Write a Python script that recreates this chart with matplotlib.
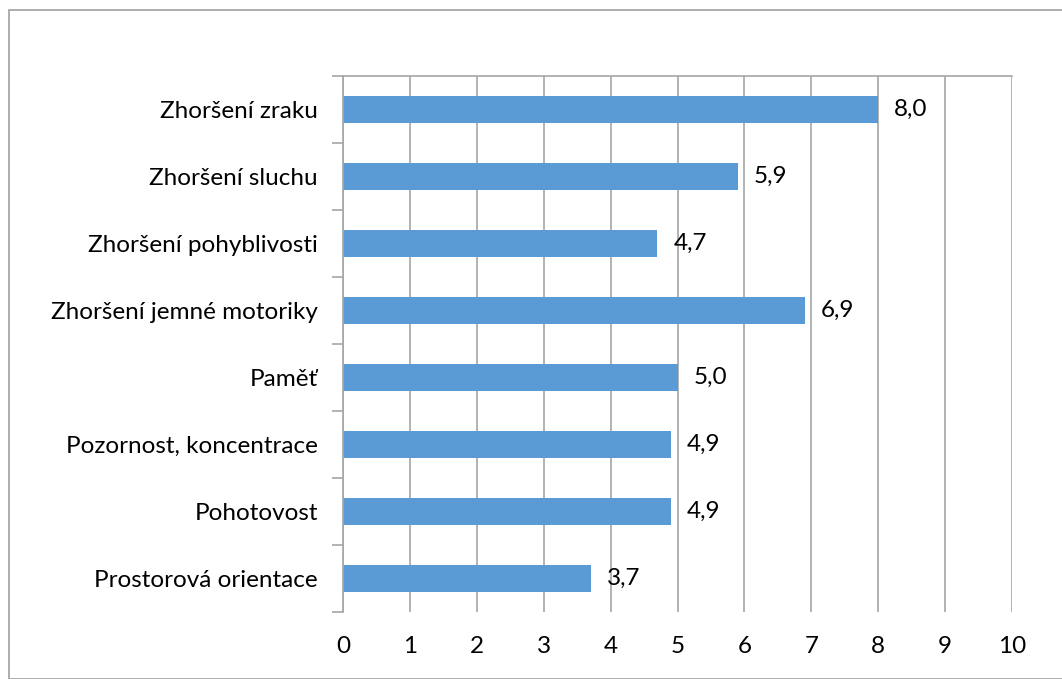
import matplotlib as mpl
import matplotlib.pyplot as plt
from matplotlib.patches import Rectangle

categories = [
    "Zhoršení zraku",
    "Zhoršení sluchu",
    "Zhoršení pohyblivosti",
    "Zhoršení jemné motoriky",
    "Paměť",
    "Pozornost, koncentrace",
    "Pohotovost",
    "Prostorová orientace",
]
values = [8.0, 5.9, 4.7, 6.9, 5.0, 4.9, 4.9, 3.7]
x_ticks = list(range(0, 11))

FS = 17.5
mpl.rcParams.update({"font.family": ["Lato", "DejaVu Sans"], "font.size": FS})

W, H = 1062, 679
fig = plt.figure(figsize=(W / 100, H / 100), dpi=100)
fig.patches.append(Rectangle((9 / W, 0), 1.2, 1 - 10 / H, transform=fig.transFigure,
                             fill=False, edgecolor="#a0a0a0", linewidth=1.2))

ax = fig.add_axes([343 / W, 1 - 612 / H, (1012 - 343) / W, (612 - 76) / H])
grid_c = "#a6a6a6"
n = len(categories)
ypos = list(range(n))
ax.barh(ypos, values, height=0.4, color="#5b9bd5", zorder=2)
ax.set_ylim(n - 0.5, -0.5)
ax.set_xlim(0, 10)
ax.set_xticks(x_ticks)
ax.set_xticklabels([str(t) for t in x_ticks])
ax.tick_params(axis="x", length=0, pad=17, labelsize=FS)
ax.set_yticks(ypos)
ax.set_yticklabels(categories, fontsize=FS)
ax.tick_params(axis="y", which="major", length=0, pad=18)
ax.set_yticks([i - 0.5 for i in range(n + 1)], minor=True)
ax.tick_params(axis="y", which="minor", length=8, color=grid_c, width=1.2, direction="out")
ax.grid(axis="x", color=grid_c, linewidth=1.2, zorder=0)
ax.set_axisbelow(True)
for s in ["right", "bottom"]:
    ax.spines[s].set_visible(False)
for s in ["top", "left"]:
    ax.spines[s].set_color(grid_c)
    ax.spines[s].set_linewidth(1.2)

for y, v in zip(ypos, values):
    ax.annotate(f"{v:.1f}".replace(".", ","), (v, y), xytext=(11.5, 0),
                textcoords="offset points", va="center", ha="left", fontsize=FS, zorder=3)

fig.savefig("out.png", dpi=100, facecolor="white")
